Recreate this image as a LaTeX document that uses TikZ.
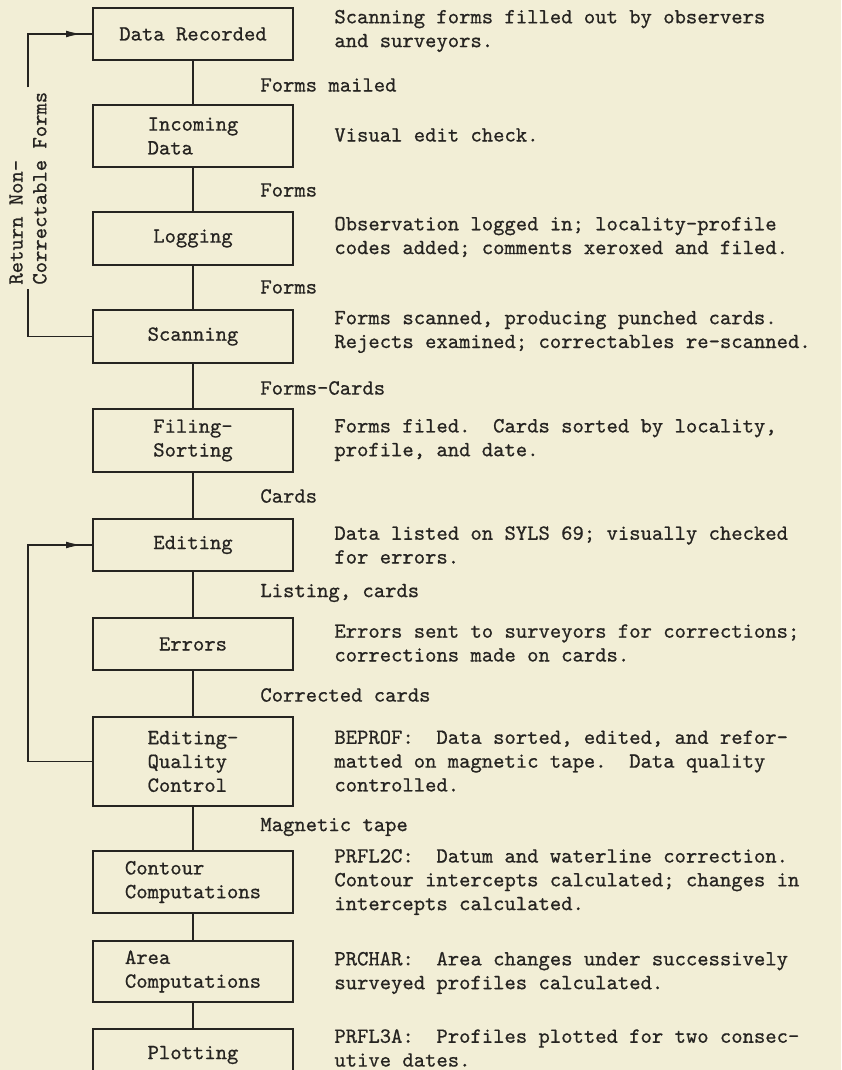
\documentclass[tikz,border=0pt]{standalone}
\usepackage{fontspec}
\setmonofont{lmmono10-regular.otf}[FakeBold=0.7]
\usetikzlibrary{arrows.meta,decorations.markings}
\definecolor{paper}{RGB}{242,238,214}
\definecolor{ink}{RGB}{38,36,33}
\tikzset{
  stage/.style={draw=ink,line width=1pt,minimum width=100pt,inner sep=2pt,align=left,text=ink},
  note/.style={anchor=west,inner sep=0pt,align=left,text=ink},
  flow/.style={color=ink,line width=0.85pt},
  backflow/.style={flow,postaction={decorate},
    decoration={markings,mark=at position -5pt with {\arrow{Latex[length=8pt,width=3.4pt]}}}}
}
\begin{document}
\begin{tikzpicture}[x=0.5pt,y=-0.5pt,font=\fontsize{10.8}{11.9}\selectfont\ttfamily]
      \fill[paper] (0,0) rectangle (841,1070);
      \useasboundingbox (0,0) rectangle (841,1070);

      % processing stages
      \node[stage,minimum height=26pt]   (rec)  at (193,34)    {Data Recorded};
      \node[stage,minimum height=31pt]   (inc)  at (193,136)   {Incoming\\Data};
      \node[stage,minimum height=26.5pt] (log)  at (193,238.5) {Logging};
      \node[stage,minimum height=26.5pt] (scan) at (193,336.5) {Scanning};
      \node[stage,minimum height=31.5pt] (fil)  at (193,440.5) {Filing-\\Sorting};
      \node[stage,minimum height=26pt]   (edit) at (193,545)   {Editing};
      \node[stage,minimum height=26pt]   (err)  at (193,644)   {Errors};
      \node[stage,minimum height=44.5pt] (eqc)  at (193,761.5) {Editing-\\Quality\\Control};
      \node[stage,minimum height=31pt]   (con)  at (193,882)   {Contour\\Computations};
      \node[stage,minimum height=30.5pt] (area) at (193,971.5) {Area\\Computations};
      \node[stage,minimum height=26pt]   (plot) at (193,1055)  {Plotting};

      \foreach \a/\b in {rec/inc,inc/log,log/scan,scan/fil,fil/edit,edit/err,err/eqc,eqc/con,con/area,area/plot}
        \draw[flow] (\a.south) -- (\b.north);

      % what passes between stages
      \node[note] (m1) at (260,85)  {Forms mailed};
      \node[note] (m2) at (260,190) {Forms};
      \node[note] (m3) at (260,287) {Forms};
      \node[note] (m4) at (260,388) {Forms-Cards};
      \node[note] (m5) at (260,496) {Cards};
      \node[note] (m6) at (260,593) {Listing, cards};
      \node[note] (m7) at (260,695) {Corrected cards};
      \node[note] (m8) at (260,827) {Magnetic tape};

      % descriptions
      \node[note] (d1)  at (334,31)   {Scanning forms filled out by observers\\and surveyors.};
      \node[note] (d2)  at (334,135)  {Visual edit check.};
      \node[note] (d3)  at (334,237)  {Observation logged in; locality-profile\\codes added; comments xeroxed and filed.};
      \node[note] (d4)  at (334,332)  {Forms scanned, producing punched cards.\\Rejects examined; correctables re-scanned.};
      \node[note] (d5)  at (334,440)  {Forms filed.\ \ Cards sorted by locality,\\profile, and date.};
      \node[note] (d6)  at (334,545)  {Data listed on SYLS 69; visually checked\\for errors.};
      \node[note] (d7)  at (334,643)  {Errors sent to surveyors for corrections;\\corrections made on cards.};
      \node[note] (d8)  at (334,761)  {BEPROF:\ \ Data sorted, edited, and refor-\\matted on magnetic tape.\ \ Data quality\\controlled.};
      \node[note] (d9)  at (334,882)  {PRFL2C:\ \ Datum and waterline correction.\\Contour intercepts calculated; changes in\\intercepts calculated.};
      \node[note] (d10) at (334,973)  {PRCHAR:\ \ Area changes under successively\\surveyed profiles calculated.};
      \node[note] (d11) at (334,1048) {PRFL3A:\ \ Profiles plotted for two consec-\\utive dates.};

      % return loops
      \node[note,rotate=90,inner sep=2pt] (ret) at (28,289) {Return Non-\\Correctable Forms};
      \coordinate (rail) at (28,0);
      \draw[flow] (scan.west) -| (ret.west);
      \draw[backflow] (ret.east) |- (rec.west);
      \draw[backflow] (eqc.west) -- (eqc.west -| rail) |- (edit.west);
    \end{tikzpicture}
\end{document}
